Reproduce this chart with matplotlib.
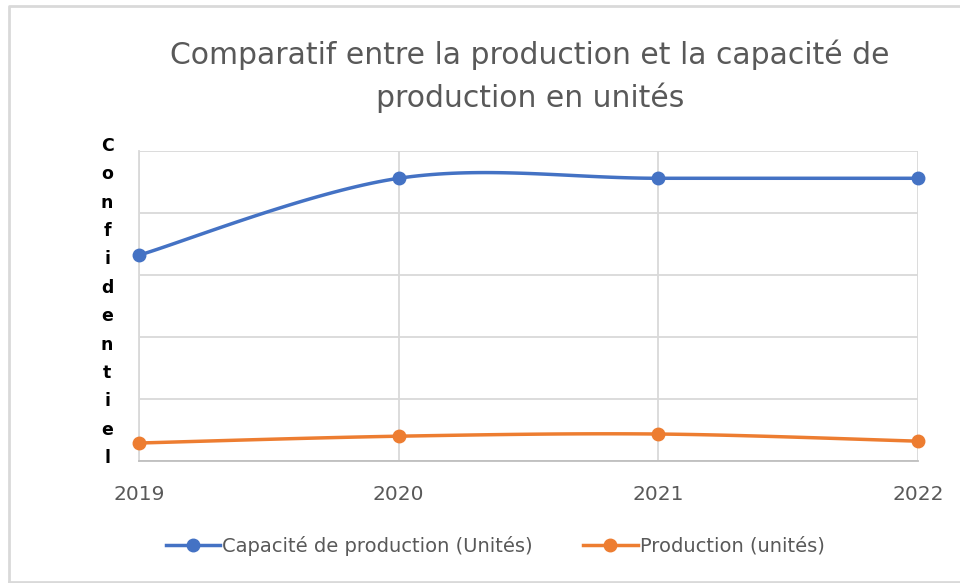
import numpy as np
import matplotlib
matplotlib.use('Agg')
import matplotlib.pyplot as plt
from matplotlib.lines import Line2D

# Data (y values hidden in the source, read in relative units)
years = ['2019', '2020', '2021', '2022']
capacite = [664, 912, 912, 912]
production = [58, 80, 87, 64]

blue = '#4472C4'
orange = '#ED7D31'
grid_col = '#D9D9D9'
text_col = '#595959'


def excel_smooth(x, y, n=40):
    # Excel-like smoothed line: cubic Bezier with Catmull-Rom control points
    x = np.asarray(x, float)
    y = np.asarray(y, float)
    px = np.concatenate([[x[0]], x, [x[-1]]])
    py = np.concatenate([[y[0]], y, [y[-1]]])
    xs, ys = [], []
    t = np.linspace(0, 1, n)
    for i in range(1, len(px) - 2):
        p0 = np.array([px[i], py[i]])
        p3 = np.array([px[i + 1], py[i + 1]])
        c1 = p0 + (np.array([px[i + 1], py[i + 1]]) - np.array([px[i - 1], py[i - 1]])) / 6
        c2 = p3 - (np.array([px[i + 2], py[i + 2]]) - np.array([px[i], py[i]])) / 6
        b = ((1 - t) ** 3)[:, None] * p0 + (3 * (1 - t) ** 2 * t)[:, None] * c1 \
            + (3 * (1 - t) * t ** 2)[:, None] * c2 + (t ** 3)[:, None] * p3
        xs.extend(b[:, 0])
        ys.extend(b[:, 1])
    return np.array(xs), np.array(ys)


fig = plt.figure(figsize=(9.6, 5.83), dpi=100)
ax = fig.add_axes([139 / 960, 1 - 461 / 583, 779 / 960, 310 / 583])

xpos = np.arange(len(years))
for vals, col in [(capacite, blue), (production, orange)]:
    sx, sy = excel_smooth(xpos, vals)
    ax.plot(sx, sy, color=col, lw=2.5, solid_capstyle='round', clip_on=False, zorder=3)
    ax.plot(xpos, vals, 'o', color=col, ms=9, clip_on=False, zorder=4)

ax.set_xlim(0, 3)
ax.set_ylim(0, 1000)
ax.set_yticks(np.arange(0, 1001, 200))
ax.set_yticklabels([])
ax.set_xticks(xpos)
ax.set_xticklabels(years, fontsize=14.5, color=text_col)
ax.tick_params(length=0, pad=17)
ax.tick_params(axis='y', length=0)
ax.grid(True, color=grid_col, lw=1.3)
ax.set_axisbelow(True)
for s in ['top', 'right']:
    ax.spines[s].set_visible(False)
ax.spines['left'].set_color(grid_col)
ax.spines['left'].set_linewidth(1.3)
ax.spines['bottom'].set_color('#BFBFBF')
ax.spines['bottom'].set_linewidth(1.3)

# vertical "Confidentiel" label
fig.text(107 / 960, 1 - 302 / 583, '\n'.join('Confidentiel'), ha='center', va='center',
         fontsize=12.5, fontweight='bold', color='black', linespacing=1.74)

fig.text(530 / 960, 1 - 76 / 583,
         'Comparatif entre la production et la capacité de\nproduction en unités',
         ha='center', va='center', fontsize=21.5, color=text_col, linespacing=1.5)

handles = [Line2D([], [], color=blue, lw=2.5, marker='o', ms=9),
           Line2D([], [], color=orange, lw=2.5, marker='o', ms=9)]
fig.legend(handles, ['Capacité de production (Unités)', 'Production (unités)'],
           loc='center', bbox_to_anchor=(495 / 960, 1 - 546 / 583), ncol=2, frameon=False,
           fontsize=14, labelcolor=text_col, handlelength=2.8, handletextpad=0.1,
           columnspacing=2.6)

# chart border
fig.add_artist(Line2D([9 / 960, 9 / 960, 1.01], [1 - 582 / 583, 1 - 6 / 583, 1 - 6 / 583],
                      transform=fig.transFigure, color='#D9D9D9', lw=2))
fig.add_artist(Line2D([9 / 960, 1.01], [1 - 582 / 583, 1 - 582 / 583],
                      transform=fig.transFigure, color='#D9D9D9', lw=2))

fig.savefig('out.png', dpi=100)
